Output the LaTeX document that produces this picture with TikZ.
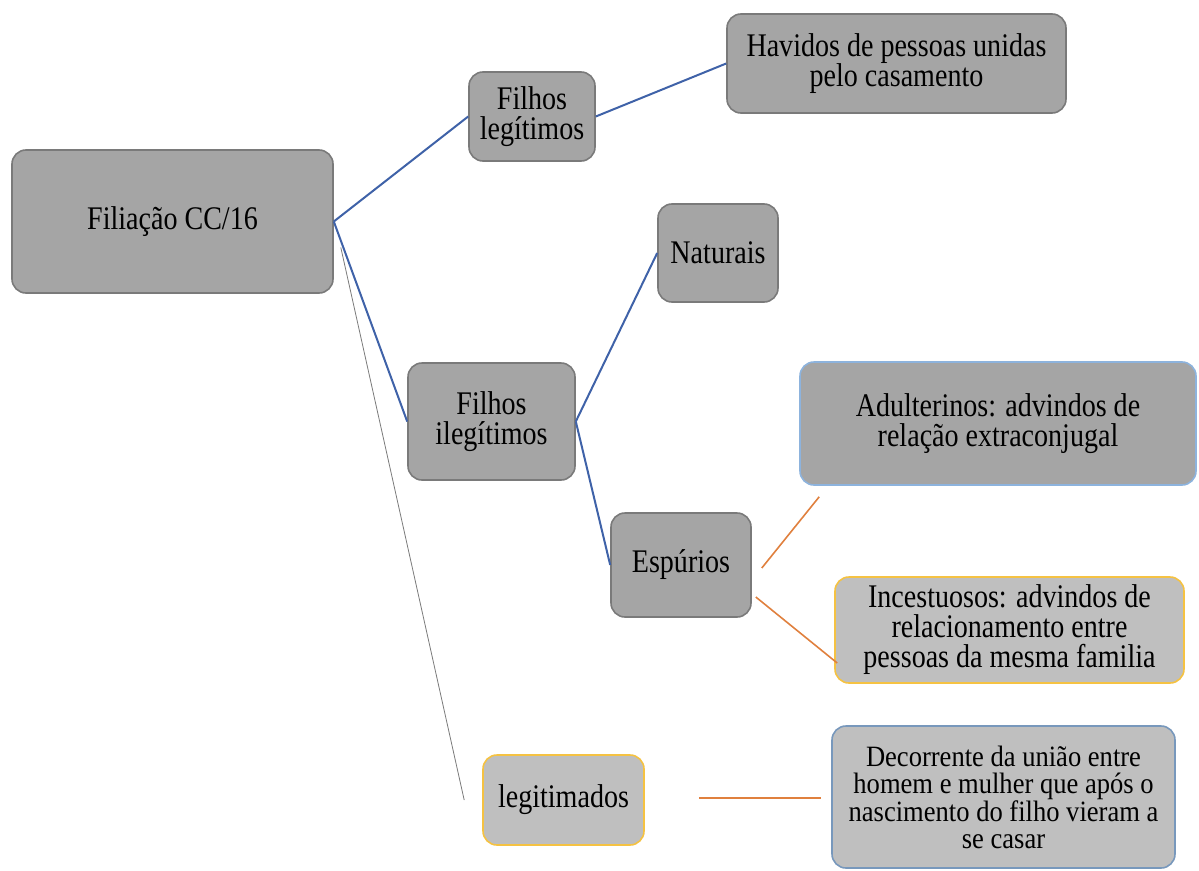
\documentclass[tikz,border=0pt]{standalone}
\usepackage{fontspec}
\usepackage{xcolor}
\usepackage{tikz}
\usetikzlibrary{calc}
\newfontfamily\boxfont[FakeStretch=0.85]{Liberation Serif}
\newfontfamily\notefont[FakeStretch=0.9]{Liberation Serif}

\definecolor{grayfill}{HTML}{A5A5A5}
\definecolor{lightfill}{HTML}{BFBFBF}
\definecolor{grayline}{HTML}{7A7A7A}
\definecolor{linkblue}{HTML}{3F62A8}
\definecolor{linkorange}{HTML}{E0803E}
\definecolor{goldline}{HTML}{F5C242}
\definecolor{skyline}{HTML}{8DB3DD}

\tikzset{%
  basebox/.style={rounded corners=14pt, line width=1.6pt, align=center, inner sep=2pt,
    font=\boxfont\fontsize{33pt}{30pt}\selectfont},
  darkbox/.style={basebox, fill=grayfill, draw=grayline},
  lightbox/.style={basebox, fill=lightfill, draw=goldline},
  bluelink/.style={draw=linkblue, line width=2pt},
  orangelink/.style={draw=linkorange, line width=1.6pt},
  thinlink/.style={draw=grayline, line width=0.8pt}}

\begin{document}
\begin{tikzpicture}[x=1pt,y=-1pt]
  \useasboundingbox (0,0) rectangle (1199,870);%

  % first level
  \node[darkbox, minimum width=321pt, minimum height=143pt] (root) at (172.5,221.5) {Filiação CC/16};%
  \node[darkbox, minimum width=126pt, minimum height=89pt] (legit) at (532,116.5) {Filhos\\legítimos};%
  \node[darkbox, minimum width=167pt, minimum height=117pt] (ileg) at (491.5,421.5) {Filhos\\ilegítimos};%
  \node[lightbox, minimum width=161pt, minimum height=90pt] (legitimados) at (563.5,800) {legitimados};%

  % second level
  \node[darkbox, minimum width=339pt, minimum height=99pt] (havidos) at (896.5,63.5)
    {Havidos de pessoas unidas\\pelo casamento};%
  \node[darkbox, minimum width=120pt, minimum height=98pt] (naturais) at (718,253) {Naturais};%
  \node[darkbox, minimum width=140pt, minimum height=104pt] (espurios) at (681,565) {Espúrios};%
  \node[darkbox, draw=skyline, minimum width=396pt, minimum height=123pt] (adult) at (998,423.5)
    {Adulterinos: advindos de\\relação extraconjugal};%
  \node[lightbox, minimum width=349pt, minimum height=106pt] (incest) at (1009.5,630)
    {Incestuosos: advindos de\\relacionamento entre\\pessoas da mesma familia};%
  \node[lightbox, draw=skyline!85!black, minimum width=343pt, minimum height=142pt,
    font=\notefont\fontsize{29.5pt}{27pt}\selectfont] (decorr) at (1003.5,797)
    {Decorrente da união entre\\homem e mulher que após o\\nascimento do filho vieram a\\se casar};%

  % connectors
  \foreach \a/\b in {root/legit, legit/havidos, root/ileg, ileg/naturais, ileg/espurios}
    \draw[bluelink] (\a.east) -- (\b.west);%

  \coordinate (e1) at ($(espurios.east)+(10,3)$);%
  \coordinate (e2) at ($(espurios.east)+(4,32)$);%
  \coordinate (a1) at ($(adult.south west)+(20,11)$);%
  \coordinate (i1) at ($(incest.west)+(3,33)$);%
  \draw[orangelink] (e1) -- (a1);%
  \draw[orangelink] (e2) -- (i1);%

  \coordinate (l1) at ($(legitimados.east)+(54,-2)$);%
  \coordinate (d1) at ($(decorr.west)+(-10,1)$);%
  \draw[orangelink] (l1) -- (d1);%

  \coordinate (r1) at ($(root.east)+(7,26)$);%
  \coordinate (m1) at ($(legitimados.west)+(-18,0)$);%
  \draw[thinlink] (r1) -- (m1);%
\end{tikzpicture}
\end{document}
